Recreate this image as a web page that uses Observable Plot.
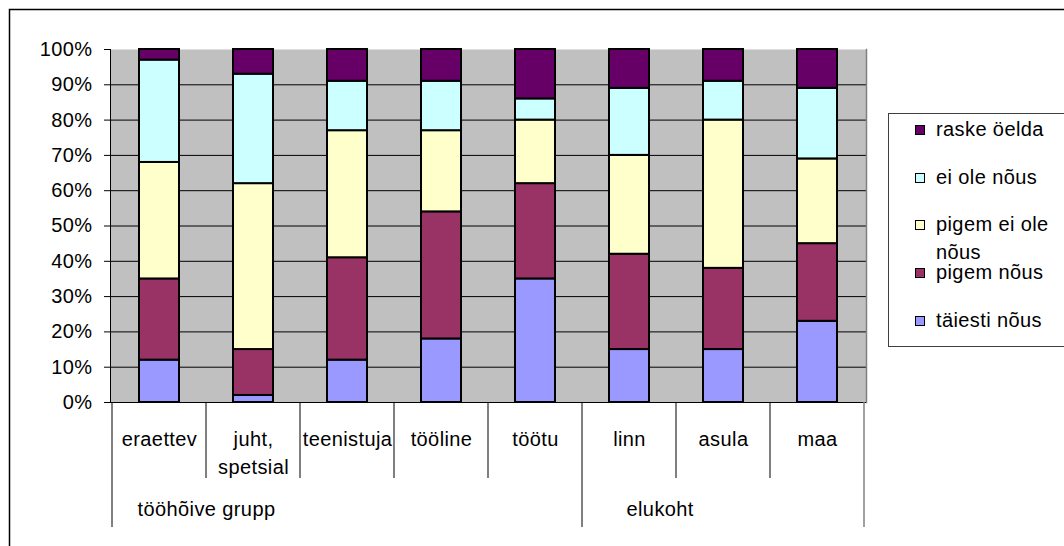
<!DOCTYPE html>
<html>
<head>
<meta charset="utf-8">
<script src="https://cdn.jsdelivr.net/npm/d3@7"></script>
<script src="https://cdn.jsdelivr.net/npm/@observablehq/plot@0.6"></script>
<style>
  html, body { margin: 0; padding: 0; background: #fff; }
  #wrap { position: relative; width: 1064px; height: 546px; overflow: hidden; font-family: "Liberation Sans", Arial, sans-serif; }
  #chart { position: absolute; left: 0; top: 0; }
  #legend { position: absolute; left: 888px; top: 113px; width: 220px; height: 234px; border: 1px solid #404040; background: #fff; box-sizing: border-box; }
  .item { position: absolute; left: 47px; font-size: 20px; line-height: 28px; letter-spacing: 0.4px; color: #000; width: 124px; }
  .sw { position: absolute; left: -21px; top: 10px; width: 8px; height: 8px; border: 1px solid #000; }
</style>
</head>
<body>
<div id="wrap">
  <div id="chart"></div>
  <div id="legend"></div>
</div>
<script>
// ---- data ----
const categories = ["eraettev", "juht, spetsial", "teenistuja", "tööline", "töötu", "linn", "asula", "maa"];
const categoryLabels = ["eraettev", "juht,\nspetsial", "teenistuja", "tööline", "töötu", "linn", "asula", "maa"];
const groupLabels = ["tööhõive grupp", "elukoht"];
const groupSizes = [5, 3];
const seriesNames = ["täiesti nõus", "pigem nõus", "pigem ei ole nõus", "ei ole nõus", "raske öelda"];
const seriesColors = ["#9999ff", "#993366", "#ffffcc", "#ccffff", "#660066"];
const taiestiNous   = [12, 2, 12, 18, 35, 15, 15, 23];
const pigemNous     = [23, 13, 29, 36, 27, 27, 23, 22];
const pigemEiOle    = [33, 47, 36, 23, 18, 28, 42, 24];
const eiOleNous     = [29, 31, 14, 14, 6, 19, 11, 20];
const raskeOelda    = [3, 7, 9, 9, 14, 11, 9, 11];
const yTicks = [0, 10, 20, 30, 40, 50, 60, 70, 80, 90, 100];

const seriesValues = [taiestiNous, pigemNous, pigemEiOle, eiOleNous, raskeOelda];
const data = [];
categories.forEach((c, i) => {
  seriesNames.forEach((s, j) => data.push({cat: c, series: s, value: seriesValues[j][i]}));
});

const plot = Plot.plot({
  width: 1064,
  height: 546,
  marginLeft: 110,
  marginRight: 198,
  marginTop: 49,
  marginBottom: 144,
  style: {fontFamily: "'Liberation Sans', Arial, sans-serif", fontSize: "20px", color: "#000", background: "transparent", letterSpacing: "0.4px"},
  x: {domain: categories, paddingInner: 0.577, paddingOuter: 0.2885, axis: null, label: null},
  y: {domain: [0, 100], axis: null, label: null},
  color: {domain: seriesNames, range: seriesColors, legend: false},
  marks: [
    Plot.frame({fill: "#c0c0c0", stroke: null}),
    Plot.gridY({ticks: yTicks.filter(t => t > 0 && t < 100), stroke: "#000", strokeOpacity: 1, strokeWidth: 1}),
    Plot.frame({anchor: "right", stroke: "#808080", strokeWidth: 1.5}),
    Plot.barY(data, {x: "cat", y: "value", fill: "series", order: seriesNames, stroke: "#000", strokeWidth: 2}),
    Plot.ruleY([0], {stroke: "#000", strokeWidth: 1}),
    Plot.frame({anchor: "left", stroke: "#000", strokeWidth: 1}),
    Plot.axisY({ticks: yTicks, tickSize: 6, tickPadding: 12, tickFormat: d => d + "%", fontSize: 20, label: null}),
    Plot.text(categories, {x: d => d, y: () => 0, text: (d, i) => categoryLabels[i], dy: 24, lineAnchor: "top", lineHeight: 1.4, fontSize: 20, fill: "#000"}),
    Plot.text([groupLabels[0]], {x: () => categories[0], y: () => 0, text: d => d, dx: -22, dy: 107, textAnchor: "start", fontSize: 20, fill: "#000"}),
    Plot.text([groupLabels[1]], {x: () => categories[groupSizes[0]], y: () => 0, text: d => d, dx: -3, dy: 107, textAnchor: "start", fontSize: 20, fill: "#000"})
  ]
});

// category dividers drawn from the library's scales
const xs = plot.scale("x");
const ys = plot.scale("y");
const svg = d3.select(plot);
const y0 = ys.apply(0);
const bounds = categories.map(c => xs.apply(c) + xs.bandwidth / 2 - xs.step / 2);
bounds.push(bounds[bounds.length - 1] + xs.step);
const groupBounds = new Set([0]);
let acc = 0;
groupSizes.forEach(n => { acc += n; groupBounds.add(acc); });
const g = svg.append("g");
bounds.forEach((bx, i) => {
  const isRightEdge = i === bounds.length - 1;
  g.append("line")
    .attr("x1", bx).attr("x2", bx)
    .attr("y1", y0).attr("y2", y0 + (groupBounds.has(i) ? 125 : 76))
    .attr("stroke", isRightEdge ? "#808080" : "#000")
    .attr("stroke-width", isRightEdge ? 1.5 : 1);
});
// outer chart border
svg.append("rect").attr("x", 9.5).attr("y", 9.5).attr("width", 1100).attr("height", 600)
  .attr("fill", "none").attr("stroke", "#000").attr("stroke-width", 1.5);

document.getElementById("chart").appendChild(plot);

// legend (top to bottom: reverse of stack order)
const legend = document.getElementById("legend");
const legendTops = [1, 49, 96, 144, 192];
seriesNames.slice().reverse().forEach((s, i) => {
  const color = seriesColors[seriesNames.indexOf(s)];
  const item = document.createElement("div");
  item.className = "item";
  item.style.top = legendTops[i] + "px";
  const sw = document.createElement("span");
  sw.className = "sw";
  sw.style.background = color;
  item.appendChild(sw);
  item.appendChild(document.createTextNode(s));
  legend.appendChild(item);
});
</script>
</body>
</html>
